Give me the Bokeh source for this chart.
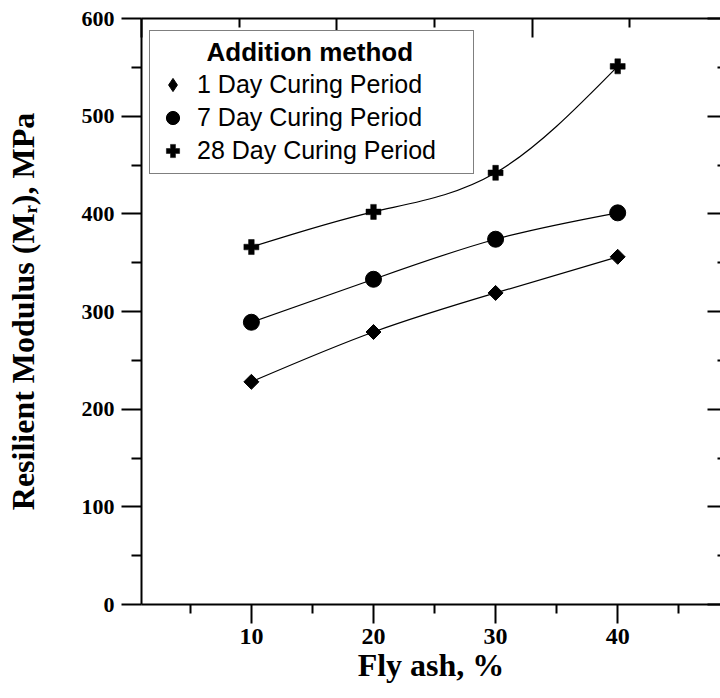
import numpy as np
from bokeh.plotting import figure
from bokeh.models import (Range1d, LinearAxis, FixedTicker, Legend, LegendItem,
                          ColumnDataSource)
from bokeh.embed import file_html
from bokeh.resources import INLINE

# ---- data ----
fly_ash = [10, 20, 30, 40]
day1 = [228, 279, 319, 356]
day7 = [289, 333, 374, 401]
day28 = [366, 402, 442, 551]
series_labels = ["1 Day Curing Period", "7 Day Curing Period", "28 Day Curing Period"]
legend_title = "Addition method"
x_title = "Fly ash, %"
y_title = "Resilient Modulus (M\u1d63), MPa"

y_major = [0, 100, 200, 300, 400, 500, 600]
y_minor = [50, 150, 250, 350, 450, 550]
x_major = [10, 20, 30, 40]
x_minor = [5, 15, 25, 35, 45]
top_major = [1, 17, 33, 49]
top_minor = [9, 25, 41]

# ---- layout ----
W, H = 720, 698
LEFT, TOP, BOTTOM = 141, 18, 94
PX_PER_X = 12.21
frame_w = W - LEFT
x_start = 1.0
x_end = x_start + frame_w / PX_PER_X

p = figure(width=W, height=H, output_backend="svg", toolbar_location=None,
           x_range=Range1d(x_start, x_end), y_range=Range1d(0, 600),
           min_border_left=LEFT, min_border_right=0, min_border_top=TOP,
           min_border_bottom=BOTTOM)
p.outline_line_color = None
p.xgrid.visible = False
p.ygrid.visible = False
p.background_fill_color = "white"
p.border_fill_color = "white"

SERIF = "Liberation Serif"
SANS = "Liberation Sans"

def style_axis(ax, size="22px"):
    ax.axis_line_width = 2
    ax.major_tick_line_width = 2
    ax.minor_tick_line_width = 2
    ax.axis_line_color = "black"
    ax.major_tick_line_color = "black"
    ax.minor_tick_line_color = "black"
    ax.major_label_text_font = SERIF
    ax.major_label_text_font_style = "bold"
    ax.major_label_text_font_size = size
    ax.major_label_text_color = "black"

# left axis
ya = p.yaxis[0]
style_axis(ya, "22px")
ya.ticker = FixedTicker(ticks=y_major, minor_ticks=y_minor)
ya.major_tick_out = 20
ya.major_tick_in = 0
ya.minor_tick_out = 10
ya.minor_tick_in = 0
ya.major_label_standoff = 7
ya.axis_label = y_title
ya.axis_label_text_font = SERIF
ya.axis_label_text_font_style = "bold"
ya.axis_label_text_font_size = "32px"
ya.axis_label_text_color = "black"
ya.axis_label_standoff = 38

# bottom axis
xa = p.xaxis[0]
style_axis(xa, "24px")
xa.ticker = FixedTicker(ticks=x_major, minor_ticks=x_minor)
xa.major_tick_out = 19
xa.major_tick_in = 0
xa.minor_tick_out = 9
xa.minor_tick_in = 0
xa.major_label_standoff = 5
xa.axis_label = x_title
xa.axis_label_text_font = SERIF
xa.axis_label_text_font_style = "bold"
xa.axis_label_text_font_size = "32px"
xa.axis_label_text_color = "black"
xa.axis_label_standoff = 0

# tick-only axes (no labels): top and right, long and short ticks as separate axes
def tick_axis(ticks, length, line=False):
    ax = LinearAxis(ticker=FixedTicker(ticks=[], minor_ticks=ticks))
    style_axis(ax)
    if not line:
        ax.axis_line_color = None
    ax.major_tick_in = 0
    ax.major_tick_out = 0
    ax.minor_tick_in = length
    ax.minor_tick_out = 0
    ax.major_label_standoff = 0
    return ax

p.add_layout(tick_axis(top_major, 19, line=True), "above")
p.add_layout(tick_axis(top_minor, 9), "above")
p.add_layout(tick_axis(y_major, 13), "right")
p.add_layout(tick_axis(y_minor, 3), "right")

# ---- smooth connecting curves (natural cubic spline through the points) ----
def spline_segments(xs, ys):
    x = np.asarray(xs, float)
    y = np.asarray(ys, float)
    n = len(x)
    h = np.diff(x)
    A = np.zeros((n, n))
    r = np.zeros(n)
    A[0, 0] = A[-1, -1] = 1
    for i in range(1, n - 1):
        A[i, i - 1] = h[i - 1]
        A[i, i] = 2 * (h[i - 1] + h[i])
        A[i, i + 1] = h[i]
        r[i] = 6 * ((y[i + 1] - y[i]) / h[i] - (y[i] - y[i - 1]) / h[i - 1])
    M = np.linalg.solve(A, r)
    m = np.empty(n)
    m[:-1] = (y[1:] - y[:-1]) / h - h * (2 * M[:-1] + M[1:]) / 6
    m[-1] = (y[-1] - y[-2]) / h[-1] + h[-1] * (M[-2] + 2 * M[-1]) / 6
    return ColumnDataSource(dict(
        x0=x[:-1], y0=y[:-1], x1=x[1:], y1=y[1:],
        cx0=x[:-1] + h / 3, cy0=y[:-1] + m[:-1] * h / 3,
        cx1=x[1:] - h / 3, cy1=y[1:] - m[1:] * h / 3))

for ys in (day1, day7, day28):
    p.bezier(x0="x0", y0="y0", x1="x1", y1="y1", cx0="cx0", cy0="cy0",
             cx1="cx1", cy1="cy1", source=spline_segments(fly_ash, ys),
             line_color="black", line_width=1.2)

r1 = p.scatter(fly_ash, day1, marker="square", angle=np.pi / 4, size=10.6,
               fill_color="black", line_color="black")
r7 = p.scatter(fly_ash, day7, marker="circle", size=16,
               fill_color="black", line_color="black")
r28 = p.scatter(fly_ash, day28, marker="plus", size=15,
                fill_color="black", line_color="black", line_width=0.5)
# legend swatch for the diamond series (legend markers are drawn unrotated)
r1_key = p.scatter(fly_ash, day1, marker="diamond", size=15,
                   fill_color="black", line_color="black", visible=False)

legend = Legend(items=[LegendItem(label=series_labels[0], renderers=[r1_key]),
                       LegendItem(label=series_labels[1], renderers=[r7]),
                       LegendItem(label=series_labels[2], renderers=[r28])],
                location=(8, 430), title="\u00a0" * 7 + legend_title)
legend.title_text_font = SANS
legend.title_text_font_style = "bold"
legend.title_text_font_size = "26px"
legend.title_text_color = "black"
legend.title_standoff = 0
legend.label_text_font = SANS
legend.label_text_font_size = "25px"
legend.label_text_color = "black"
legend.label_text_baseline = "middle"
legend.glyph_width = 33
legend.glyph_height = 33
legend.label_height = 30
legend.label_standoff = 8
legend.label_width = 270
legend.spacing = 0
legend.padding = 6
legend.margin = 0
legend.border_line_color = "black"
legend.border_line_width = 1
legend.background_fill_color = "white"
legend.background_fill_alpha = 1
p.add_layout(legend, "center")

open("out.html", "w").write(file_html(p, INLINE))
